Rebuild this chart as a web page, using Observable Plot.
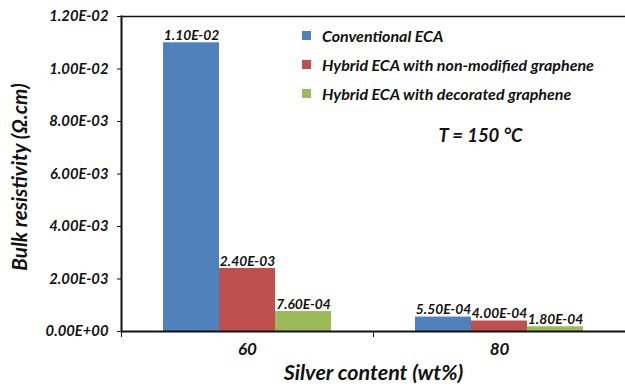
<!DOCTYPE html>
<html>
<head>
<meta charset="utf-8">
<script src="https://cdn.jsdelivr.net/npm/d3@7"></script>
<script src="https://cdn.jsdelivr.net/npm/@observablehq/plot@0.6"></script>
<style>
  body { margin: 0; background: #fff; }
  #chart { position: relative; width: 625px; height: 387px; font-family: Lato, "Open Sans", sans-serif; }
  #chart svg { display: block; }
  .legend { position: absolute; left: 302px; top: 21px; font-weight: bold; font-style: italic; font-size: 16px; color: #111; }
  .legend .row { display: flex; align-items: center; height: 29px; }
  .legend .sw { width: 9px; height: 9px; margin-right: 11px; flex: none; }
</style>
</head>
<body>
<div id="chart"></div>
<script>
// Silver content groups (wt%)
const contents = ["60", "80"];
// Series shown in each group
const seriesNames = [
  "Conventional ECA",
  "Hybrid ECA with non-modified graphene",
  "Hybrid ECA with decorated graphene"
];
// Bulk resistivity (Ω.cm) per series, one value per silver content
const conventional = [1.10e-2, 5.50e-4];
const hybridNonModified = [2.40e-3, 4.00e-4];
const hybridDecorated = [7.60e-4, 1.80e-4];
const seriesColors = ["#4F81BD", "#C0504D", "#9BBB59"];
const yTicks = [0, 0.002, 0.004, 0.006, 0.008, 0.010, 0.012];
const annotation = "T = 150 °C";

const seriesValues = [conventional, hybridNonModified, hybridDecorated];
const rows = [];
contents.forEach((c, i) => {
  seriesNames.forEach((s, j) => rows.push({content: c, series: s, value: seriesValues[j][i]}));
});

// Scientific notation with a two-digit exponent, e.g. 1.20E-02
function sci(v) {
  const [m, e] = v.toExponential(2).split("e");
  const sign = e[0] === "-" ? "-" : "+";
  return `${m}E${sign}${e.replace(/^[+-]/, "").padStart(2, "0")}`;
}

const plot = Plot.plot({
  width: 625,
  height: 387,
  marginLeft: 121,
  marginRight: 0,
  marginTop: 16,
  marginBottom: 56,
  style: {fontFamily: "Lato, 'Open Sans', sans-serif", fontWeight: "bold", fontStyle: "italic", color: "#111", background: "#fff"},
  fx: {domain: contents, padding: 0, axis: null},
  x: {domain: seriesNames, paddingInner: 0, paddingOuter: 0.75, axis: null},
  y: {domain: [0, 0.012], axis: null},
  color: {domain: seriesNames, range: seriesColors},
  marks: [
    Plot.barY(rows, {fx: "content", x: "series", y: "value", fill: "series"}),
    Plot.text(rows, {fx: "content", x: "series", y: "value", text: d => sci(d.value), lineAnchor: "bottom", dy: -3, fontSize: 13.8}),
    Plot.ruleY([0.012], {strokeWidth: 1.5}),
    Plot.ruleY([0], {strokeWidth: 2}),
    Plot.frame({anchor: "left", facetAnchor: "left", strokeWidth: 2}),
    // category separator tick below the baseline
    Plot.frame({anchor: "left", insetTop: 315, insetBottom: -5, strokeWidth: 1}),
    Plot.axisY({ticks: yTicks, tickFormat: sci, tickSize: 4, tickPadding: 9, fontSize: 14.8, label: null}),
    Plot.axisFx({domain: contents, anchor: "bottom", tickSize: 0, tickPadding: 11, fontSize: 17, label: null}),
    Plot.text(["Bulk resistivity (Ω.cm)"], {frameAnchor: "left", facetAnchor: "left", rotate: -90, dx: -101, dy: 3, textAnchor: "middle", lineAnchor: "middle", fontSize: 20.6}),
    Plot.text(["Silver content (wt%)"], {frameAnchor: "bottom-right", facetAnchor: "left", dy: 42, textAnchor: "middle", lineAnchor: "middle", fontSize: 21.5}),
    Plot.text([{content: "80", label: annotation}], {fx: "content", text: "label", frameAnchor: "top", dx: -19, dy: 120, textAnchor: "middle", lineAnchor: "middle", fontSize: 18.5})
  ]
});

const chart = document.getElementById("chart");
chart.appendChild(plot);

// Legend
const legend = document.createElement("div");
legend.className = "legend";
seriesNames.forEach((name, i) => {
  const row = document.createElement("div");
  row.className = "row";
  const sw = document.createElement("span");
  sw.className = "sw";
  sw.style.background = seriesColors[i];
  const label = document.createElement("span");
  label.textContent = name;
  row.appendChild(sw);
  row.appendChild(label);
  legend.appendChild(row);
});
chart.appendChild(legend);
</script>
</body>
</html>
